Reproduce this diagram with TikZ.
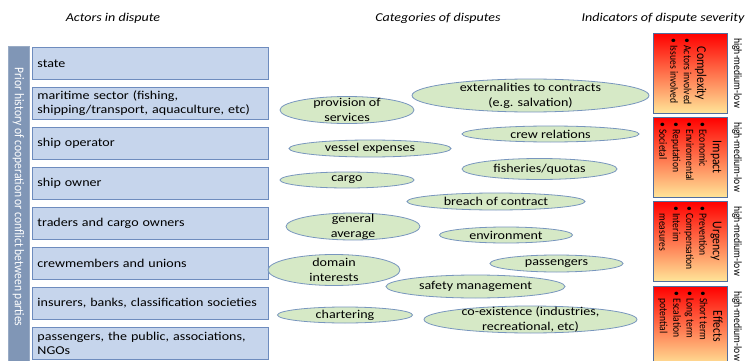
\documentclass[tikz,border=0pt]{standalone}
\usepackage{fontspec}
\setmainfont{Carlito}
\newfontfamily\hf{Carlito}[FakeStretch=1.17]
\usetikzlibrary{shapes.geometric}
\definecolor{actfill}{RGB}{198,213,236}
\definecolor{actdraw}{RGB}{110,140,190}
\definecolor{barfill}{RGB}{128,150,182}
\definecolor{elfill}{RGB}{214,233,198}
\definecolor{eldraw}{RGB}{120,150,190}
\definecolor{sevlow}{RGB}{255,230,153}
\definecolor{sevdraw}{RGB}{80,110,160}
\newcommand\sevitem[1]{\hspace*{4.5pt}\makebox[6.5pt][l]{\textbullet}#1}
\newcommand\sevcont[1]{\hspace*{11pt}#1}
\newcommand\sevbox[1]{\scalebox{1}[1.15]{\parbox{78pt}{\raggedright\fontsize{9.6}{11.6}\selectfont #1}}}
\newcommand\vstr[1]{\scalebox{1}[1.15]{#1}}
\begin{document}
\begin{tikzpicture}[x=1pt,y=-1pt,
  head/.style={inner sep=0pt, font=\hf\itshape\fontsize{12}{14}\selectfont},
  actor/.style={draw=actdraw, line width=0.9pt, fill=actfill, anchor=north west,
    minimum height=32pt, text width=226pt, inner xsep=5pt, inner ysep=0pt,
    align=left, font=\hf\fontsize{12}{14.3}\selectfont},
  bar/.style={draw=barfill!80!white, line width=0.8pt, fill=barfill, anchor=north west,
    minimum width=21pt, minimum height=320pt, inner sep=0pt},
  bartext/.style={rotate=-90, text=white, inner sep=0pt, font=\fontsize{11.6}{13}\selectfont},
  cat/.style={ellipse, draw=eldraw, line width=0.8pt, fill=elfill, inner sep=0pt},
  cattext/.style={inner sep=0pt, align=center, font=\hf\fontsize{12}{15}\selectfont},
  sev/.style={rectangle, draw=sevdraw, line width=0.8pt, anchor=north west,
    minimum width=74pt, minimum height=80pt, inner sep=0pt, top color=red, bottom color=sevlow},
  sevtext/.style={rotate=-90, inner sep=0pt},
  hml/.style={rotate=-90, inner sep=0pt, font=\fontsize{9.7}{11}\selectfont}
]
\clip (0,0) rectangle (747,361);
\fill[white] (0,0) rectangle (747,361);

% headers
\node[head] (h1) at (113,18) {Actors in dispute};
\node[head] (h2) at (438,18) {Categories of disputes};
\node[head] (h3) at (663,18) {Indicators of dispute severity};

% left bar
\node[bar] (bar) at (8,46) {};
\node[bartext] (bart) at (18.5,197) {\vstr{Prior history of cooperation or conflict between parties}};

% actors
\node[actor] (a1) at (32,47) {state};
\node[actor] (a2) at (32,87) {maritime sector (fishing,\\shipping/transport, aquaculture, etc)};
\node[actor] (a3) at (32,127) {ship operator};
\node[actor] (a4) at (32,167) {ship owner};
\node[actor] (a5) at (32,207) {traders and cargo owners};
\node[actor] (a6) at (32,247) {crewmembers and unions};
\node[actor] (a7) at (32,287) {insurers, banks, classification societies};
\node[actor] (a8) at (32,327) {passengers, the public, associations,\\NGOs};

% categories
\node[cat, minimum width=134pt, minimum height=27pt] (e1) at (347,110) {};
\node[cattext] (t1) at (e1.center) {provision of\\services};
\node[cat, minimum width=237pt, minimum height=33pt] (e2) at (530.5,95.5) {};
\node[cattext] (t2) at (e2.center) {externalities to contracts\\(e.g. salvation)};
\node[cat, minimum width=177pt, minimum height=16pt] (e3) at (550.5,134) {};
\node[cattext] (t3) at (e3.center) {crew relations};
\node[cat, minimum width=162pt, minimum height=17pt] (e4) at (370,148.5) {};
\node[cattext] (t4) at (e4.center) {vessel expenses};
\node[cat, minimum width=155pt, minimum height=21pt] (e5) at (539.5,169) {};
\node[cattext] (t5) at (e5.center) {fisheries/quotas};
\node[cat, minimum width=134pt, minimum height=16pt] (e6) at (347,180) {};
\node[cattext] (t6) at (e6.center) {cargo};
\node[cat, minimum width=178pt, minimum height=17pt] (e7) at (496,201.5) {};
\node[cattext] (t7) at (e7.center) {breach of contract};
\node[cat, minimum width=134pt, minimum height=27pt] (e8) at (353,226.5) {};
\node[cattext] (t8) at (e8.center) {general\\average};
\node[cat, minimum width=133pt, minimum height=16pt] (e9) at (506,235) {};
\node[cattext] (t9) at (e9.center) {environment};
\node[cat, minimum width=132pt, minimum height=31pt] (e10) at (334,270) {};
\node[cattext] (t10) at (e10.center) {domain\\interests};
\node[cat, minimum width=133pt, minimum height=17pt] (e11) at (556.5,263.5) {};
\node[cattext] (t11) at (e11.center) {passengers};
\node[cat, minimum width=179pt, minimum height=23pt] (e12) at (475.5,286.5) {};
\node[cattext] (t12) at (e12.center) {safety management};
\node[cat, minimum width=135pt, minimum height=16pt] (e13) at (345,315) {};
\node[cattext] (t13) at (e13.center) {chartering};
\node[cat, minimum width=213pt, minimum height=27pt] (e14) at (530.5,319.5) {};
\node[cattext] (t14) at (e14.center) {co-existence (industries,\\recreational, etc)};

% severity
\node[sev] (s1) at (653,33) {};
\node[sevtext] (st1) at ([xshift=-2pt]s1.center) {\sevbox{{\centering\fontsize{11.7}{13}\selectfont Complexity\par}\sevitem{Actors involved}\\\sevitem{Issues involved}}};
\node[hml] (h1l) at (737,73) {\vstr{high-medium-low}};

\node[sev] (s2) at (653,117) {};
\node[sevtext] (st2) at (s2.center) {\sevbox{{\centering\fontsize{11.7}{13}\selectfont Impact\par}\sevitem{Economic}\\\sevitem{Enviromental}\\\sevitem{Reputation}\\\sevitem{Societal}}};
\node[hml] (h2l) at (737,157) {\vstr{high-medium-low}};

\node[sev] (s3) at (653,201) {};
\node[sevtext] (st3) at (s3.center) {\sevbox{{\centering\fontsize{11.7}{13}\selectfont Urgency\par}\sevitem{Prevention}\\\sevitem{Compensation}\\\sevitem{Interim}\\\sevcont{measures}}};
\node[hml] (h3l) at (737,241) {\vstr{high-medium-low}};

\node[sev] (s4) at (653,286) {};
\node[sevtext] (st4) at (s4.center) {\sevbox{{\centering\fontsize{11.7}{13}\selectfont Effects\par}\sevitem{Short term}\\\sevitem{Long term}\\\sevitem{Escalation}\\\sevcont{potential}}};
\node[hml] (h4l) at (737,326) {\vstr{high-medium-low}};
\end{tikzpicture}
\end{document}
